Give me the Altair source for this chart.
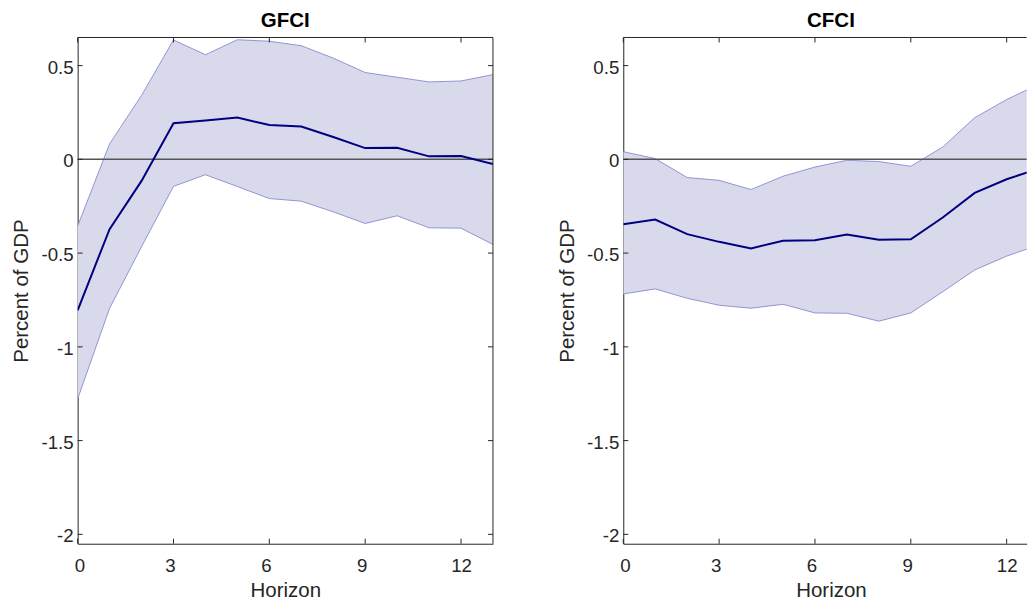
import altair as alt
import pandas as pd

horizon = list(range(14))

gfci_mean = [-0.805, -0.372, -0.115, 0.193, 0.207, 0.223, 0.183, 0.175, 0.119, 0.060, 0.062, 0.016, 0.018, -0.025]
gfci_hi = [-0.356, 0.083, 0.341, 0.637, 0.558, 0.638, 0.630, 0.606, 0.540, 0.463, 0.438, 0.413, 0.418, 0.452]
gfci_lo = [-1.278, -0.794, -0.466, -0.144, -0.082, -0.145, -0.209, -0.223, -0.280, -0.342, -0.301, -0.365, -0.367, -0.454]

cfci_mean = [-0.346, -0.321, -0.399, -0.440, -0.475, -0.434, -0.431, -0.401, -0.429, -0.426, -0.310, -0.179, -0.106, -0.050]
cfci_hi = [0.041, 0.004, -0.097, -0.112, -0.161, -0.090, -0.041, -0.005, -0.012, -0.037, 0.066, 0.222, 0.319, 0.400]
cfci_lo = [-0.718, -0.691, -0.741, -0.778, -0.794, -0.773, -0.819, -0.821, -0.863, -0.819, -0.706, -0.590, -0.516, -0.457]

x_ticks = [0, 3, 6, 9, 12]
y_ticks = [-2, -1.5, -1, -0.5, 0, 0.5]

W_FULL = 415.6      # full plot width of one panel
W_RIGHT = 403.7     # visible part of the second panel (cut by the page edge)
H = 506.6
FONT = "Liberation Sans"
AX = "#262626"

yscale = alt.Scale(domain=[-2.05, 0.65], nice=False, zero=False)


def panel(title, mean, lo, hi, w, right_border):
    xmax = 13 * w / W_FULL
    xscale = alt.Scale(domain=[0, xmax], nice=False, zero=False)
    df = pd.DataFrame({"h": horizon, "mean": mean, "lo": lo, "hi": hi})
    xt = pd.DataFrame({"t": x_ticks})
    yt = pd.DataFrame({"t": y_ticks})

    xax = alt.Axis(values=x_ticks, ticks=False, domain=True, domainColor=AX,
                   domainWidth=1, grid=False,
                   labelPadding=13, title="Horizon", titlePadding=5.5,
                   titleX=W_FULL / 2,
                   labelOffset={"condition": {"test": "datum.value < 10", "value": -3.5},
                                "value": 0},
                   labelFontSize=18.7, titleFontSize=20.5, labelFont=FONT,
                   titleFont=FONT, labelColor=AX, titleColor=AX,
                   titleFontWeight="normal", labelExpr="'' + datum.value")
    yax = alt.Axis(values=y_ticks, ticks=False, domain=True, domainColor=AX,
                   domainWidth=1, grid=False,
                   labelPadding=4.5, labelOffset=1.5,
                   title="Percent of GDP", titlePadding=9,
                   labelFontSize=18.7, titleFontSize=20.5, labelFont=FONT,
                   titleFont=FONT, labelColor=AX, titleColor=AX,
                   titleFontWeight="normal", labelExpr="'' + datum.value")

    base = alt.Chart(df)
    band = base.mark_area(color="#d9d9ec", clip=True).encode(
        x=alt.X("h:Q", scale=xscale, axis=xax),
        y=alt.Y("lo:Q", scale=yscale, axis=yax),
        y2="hi:Q",
    )
    lo_line = base.mark_line(color="#8a8ad0", strokeWidth=0.9, clip=True).encode(
        x=alt.X("h:Q", scale=xscale), y=alt.Y("lo:Q", scale=yscale))
    hi_line = base.mark_line(color="#8a8ad0", strokeWidth=0.9, clip=True).encode(
        x=alt.X("h:Q", scale=xscale), y=alt.Y("hi:Q", scale=yscale))
    zero = alt.Chart(pd.DataFrame({"z": [0]})).mark_rule(
        color="#555555", strokeWidth=1.5).encode(y=alt.Y("z:Q", scale=yscale))
    mean_line = base.mark_line(color="#000080", strokeWidth=2, clip=True).encode(
        x=alt.X("h:Q", scale=xscale), y=alt.Y("mean:Q", scale=yscale))

    top_border = alt.Chart(pd.DataFrame({"z": [0]})).mark_rule(
        color=AX, strokeWidth=1).encode(y=alt.value(0))

    tb = alt.Chart(xt).mark_rule(color=AX, strokeWidth=1).encode(
        x=alt.X("t:Q", scale=xscale), y=alt.value(H), y2=alt.value(H - 5))
    tt = alt.Chart(xt).mark_rule(color=AX, strokeWidth=1).encode(
        x=alt.X("t:Q", scale=xscale), y=alt.value(0), y2=alt.value(5))
    tl = alt.Chart(yt).mark_rule(color=AX, strokeWidth=1).encode(
        y=alt.Y("t:Q", scale=yscale), x=alt.value(0), x2=alt.value(5))

    layers = [band, lo_line, hi_line, zero, mean_line, top_border, tb, tt, tl]
    if right_border:
        tr = alt.Chart(yt).mark_rule(color=AX, strokeWidth=1).encode(
            y=alt.Y("t:Q", scale=yscale), x=alt.value(w), x2=alt.value(w - 5))
        rb = alt.Chart(pd.DataFrame({"z": [0]})).mark_rule(
            color=AX, strokeWidth=1).encode(x=alt.value(w))
        layers += [tr, rb]

    return alt.layer(*layers).properties(
        width=w, height=H,
        view=alt.ViewConfig(stroke="transparent"),
        title=alt.TitleParams(title, font=FONT, fontSize=20.5, fontWeight="bold",
                              color="#000000", offset=5.4, anchor="middle",
                              dx=(W_FULL - w) / 2),
    )


chart = alt.hconcat(
    panel("GFCI", gfci_mean, gfci_lo, gfci_hi, W_FULL, True),
    panel("CFCI", cfci_mean, cfci_lo, cfci_hi, W_RIGHT, False),
    spacing=62,
).properties(
    padding={"left": 10.7, "top": 10.3, "right": 0, "bottom": 0},
    background="white",
).configure_view(stroke="transparent")

chart.save("out.html", embed_options={"renderer": "svg", "actions": False})
